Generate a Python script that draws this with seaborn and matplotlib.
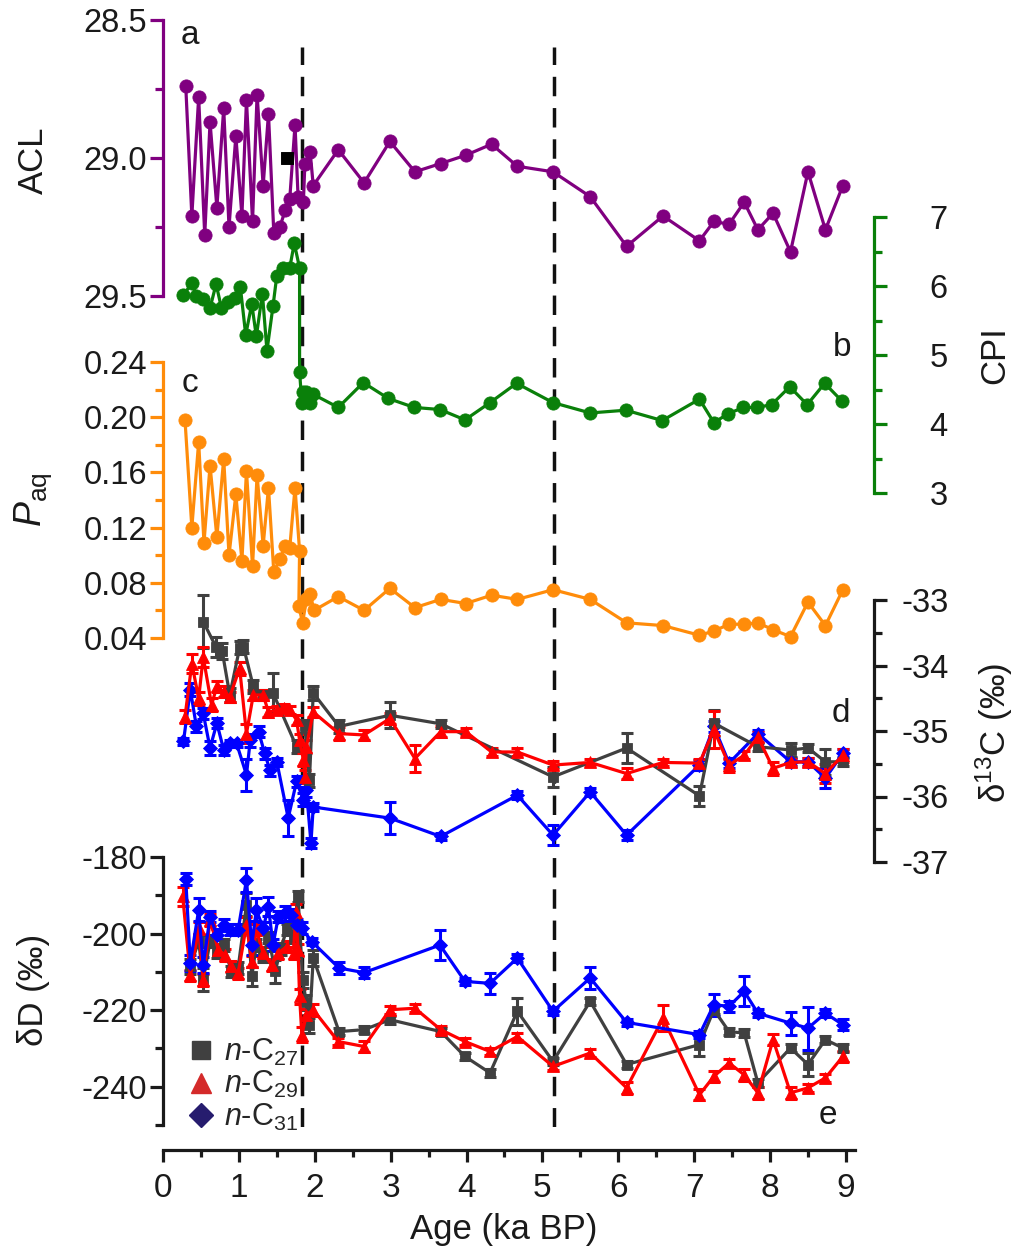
import matplotlib
matplotlib.use("Agg")
import matplotlib.pyplot as plt
import seaborn as sns
from matplotlib.lines import Line2D
from matplotlib.ticker import FixedLocator, FormatStrFormatter

# ---------------- data ----------------
acl_age = [0.30,0.38,0.47,0.55,0.62,0.71,0.80,0.87,0.96,1.04,1.10,1.18,1.24,1.32,1.39,1.46,1.54,1.61,1.67,1.74,
           1.78,1.85,1.87,1.94,1.98,2.31,2.65,2.99,3.32,3.66,3.99,4.33,4.67,5.14,5.63,6.11,6.59,7.07,7.26,7.46,
           7.66,7.84,8.04,8.27,8.50,8.73,8.96]
acl = [28.74,29.21,28.78,29.28,28.87,29.18,28.82,29.25,28.92,29.21,28.79,29.23,28.77,29.10,28.84,29.27,29.25,29.19,
       29.15,28.88,29.14,29.16,29.02,28.98,29.10,28.97,29.09,28.94,29.05,29.02,28.99,28.95,29.03,29.05,29.14,29.32,
       29.21,29.30,29.23,29.24,29.16,29.26,29.20,29.34,29.05,29.26,29.10]
acl_extra_age = [1.63]
acl_extra = [29.00]

cpi_age = [0.27,0.38,0.44,0.53,0.62,0.70,0.77,0.86,0.95,1.02,1.09,1.17,1.23,1.31,1.37,1.45,1.50,1.58,1.67,1.73,
           1.80,1.80,1.83,1.84,1.89,1.94,1.98,2.31,2.64,2.97,3.31,3.65,3.98,4.31,4.66,5.14,5.63,6.10,6.58,7.07,
           7.26,7.45,7.65,7.83,8.02,8.26,8.49,8.72,8.95]
cpi = [5.87,6.04,5.86,5.81,5.68,6.03,5.68,5.77,5.82,5.98,5.29,5.74,5.27,5.89,5.06,5.71,6.15,6.26,6.26,6.62,
       6.26,4.76,4.30,4.47,4.47,4.30,4.43,4.24,4.60,4.37,4.24,4.21,4.06,4.31,4.59,4.31,4.16,4.20,4.05,4.36,
       4.02,4.15,4.24,4.24,4.28,4.54,4.28,4.59,4.33]

paq_age = [0.29,0.38,0.47,0.54,0.62,0.71,0.80,0.87,0.96,1.04,1.10,1.18,1.24,1.32,1.39,1.46,1.54,1.61,1.67,1.74,
           1.80,1.79,1.84,1.89,1.94,1.99,2.31,2.65,2.99,3.32,3.66,3.99,4.33,4.67,5.14,5.63,6.11,6.59,7.07,7.26,
           7.46,7.66,7.84,8.04,8.27,8.50,8.73,8.96]
paq = [0.198,0.120,0.182,0.109,0.165,0.113,0.170,0.100,0.144,0.096,0.161,0.092,0.158,0.107,0.149,0.088,0.097,0.107,
       0.105,0.149,0.103,0.063,0.051,0.068,0.072,0.060,0.070,0.060,0.076,0.062,0.068,0.065,0.071,0.068,0.075,0.068,
       0.051,0.049,0.042,0.045,0.050,0.050,0.051,0.046,0.041,0.066,0.049,0.075]

# delta 13C
c27_d13_age = [0.53,0.70,0.78,0.88,1.01,1.06,1.19,1.32,1.45,1.76,1.87,1.93,1.98,2.32,2.99,3.66,5.14,6.11,7.07,7.26,
               7.84,8.27,8.50,8.73,8.96]
c27_d13 = [-33.33,-33.72,-33.78,-34.45,-33.73,-33.71,-34.32,-34.45,-34.42,-35.24,-34.93,-35.75,-34.42,-34.93,-34.76,
           -34.89,-35.70,-35.26,-35.99,-34.88,-35.24,-35.29,-35.26,-35.47,-35.47]
c27_d13_err = [0.40,0.15,0.12,0.10,0.10,0.10,0.10,0.08,0.30,0.10,0.10,0.10,0.10,0.10,0.20,0.06,0.15,0.23,0.15,0.20,
               0.06,0.10,0.06,0.20,0.06]

c29_d13_age = [0.29,0.38,0.47,0.53,0.64,0.71,0.80,0.88,1.01,1.10,1.19,1.32,1.39,1.50,1.59,1.67,1.76,1.80,1.85,1.87,
               1.89,1.98,2.32,2.65,2.99,3.32,3.66,3.99,4.33,4.67,5.14,5.63,6.11,6.59,7.07,7.26,7.46,7.66,7.84,8.04,
               8.27,8.50,8.73,8.96]
c29_d13 = [-34.78,-33.97,-34.50,-33.87,-34.60,-34.32,-34.40,-34.48,-34.04,-35.04,-34.45,-34.45,-34.71,-34.68,-34.65,
           -34.68,-34.83,-35.14,-35.44,-35.70,-35.24,-34.71,-35.04,-35.06,-34.81,-35.42,-35.01,-35.01,-35.32,-35.32,
           -35.52,-35.48,-35.65,-35.48,-35.49,-34.98,-35.52,-35.37,-35.09,-35.57,-35.48,-35.47,-35.65,-35.37]
c29_d13_err = [0.10,0.15,0.10,0.15,0.10,0.08,0.08,0.08,0.10,0.15,0.08,0.08,0.08,0.06,0.06,0.06,0.08,0.10,0.10,0.10,
               0.10,0.08,0.10,0.08,0.08,0.20,0.08,0.06,0.06,0.06,0.06,0.06,0.08,0.06,0.06,0.28,0.10,0.06,0.08,0.10,
               0.06,0.06,0.15,0.10]

c31_d13_age = [0.27,0.36,0.44,0.53,0.62,0.71,0.80,0.88,0.97,1.10,1.15,1.26,1.34,1.41,1.50,1.65,1.76,1.85,1.89,1.95,
               1.98,2.99,3.66,4.67,5.14,5.63,6.11,7.07,7.26,7.46,7.84,8.27,8.50,8.73,8.96]
c31_d13 = [-35.16,-34.37,-34.93,-34.73,-35.26,-34.88,-35.29,-35.19,-35.19,-35.67,-35.14,-35.01,-35.34,-35.60,-35.47,
           -36.33,-35.77,-36.05,-35.90,-36.71,-36.16,-36.33,-36.61,-35.98,-36.59,-35.93,-36.59,-35.52,-34.93,-35.49,
           -35.04,-35.47,-35.47,-35.72,-35.34]
c31_d13_err = [0.06,0.10,0.08,0.08,0.10,0.08,0.08,0.06,0.06,0.25,0.10,0.08,0.08,0.08,0.06,0.28,0.08,0.10,0.10,0.08,
               0.06,0.25,0.06,0.06,0.15,0.06,0.08,0.08,0.08,0.08,0.06,0.06,0.06,0.15,0.06]

# delta D
c27_dD_age = [0.36,0.47,0.53,0.62,0.71,0.80,0.90,0.99,1.10,1.17,1.23,1.32,1.39,1.48,1.55,1.63,1.72,1.78,1.84,1.89,
              1.93,1.98,2.32,2.65,2.99,3.66,3.98,4.31,4.67,5.14,5.63,6.11,7.07,7.26,7.46,7.66,7.84,8.27,8.50,8.73,8.96]
c27_dD = [-208.6,-202.0,-212.1,-202.0,-205.0,-203.0,-209.9,-209.0,-192.5,-211.2,-203.0,-206.0,-201.0,-209.9,-204.0,
          -199.0,-201.0,-190.3,-212.1,-218.0,-224.0,-206.4,-225.6,-225.1,-222.5,-225.6,-232.1,-236.4,-220.3,-233.4,
          -217.7,-234.2,-229.0,-219.9,-225.6,-226.0,-239.0,-229.9,-234.2,-227.7,-229.9]
c27_dD_err = [2.0,1.5,3.0,1.5,1.5,1.5,1.5,1.5,3.0,2.5,1.5,1.5,1.5,3.0,1.5,1.5,1.5,1.5,2.0,2.0,
              2.0,2.0,1.0,1.0,1.0,1.0,1.0,1.0,3.5,1.0,1.0,1.0,3.0,1.0,1.0,1.0,1.0,1.0,3.0,1.0,1.0]

c29_dD_age = [0.26,0.36,0.47,0.53,0.62,0.73,0.82,0.90,0.99,1.10,1.17,1.23,1.32,1.43,1.52,1.63,1.72,1.75,1.78,1.80,
              1.83,1.89,1.98,2.31,2.65,2.99,3.32,3.66,3.98,4.31,4.67,5.14,5.63,6.11,6.59,7.07,7.26,7.46,7.66,7.84,
              8.04,8.27,8.50,8.73,8.96]
c29_dD = [-190.3,-210.9,-198.6,-212.1,-196.4,-204.3,-205.6,-208.6,-210.4,-197.7,-207.3,-199.0,-205.1,-208.2,-205.1,
          -203.4,-205.1,-194.3,-204.3,-216.4,-226.4,-221.2,-219.9,-228.2,-229.5,-219.9,-219.5,-225.1,-228.2,-230.8,
          -226.9,-234.7,-231.2,-240.3,-222.1,-242.1,-237.3,-233.8,-236.9,-241.6,-227.7,-241.6,-240.3,-237.7,-232.1]
c29_dD_err = [2.5,1.5,1.5,1.5,1.5,1.5,1.5,1.5,1.5,2.0,1.5,1.5,1.5,1.5,1.5,1.5,1.5,2.0,1.5,2.0,
              2.0,1.5,1.5,1.0,1.5,1.0,1.0,1.0,1.0,1.0,1.0,1.0,1.0,1.5,3.4,1.5,1.5,1.0,1.5,1.5,
              1.5,1.5,1.0,1.0,1.5]

c31_dD_age = [0.30,0.36,0.47,0.53,0.62,0.71,0.80,0.88,0.99,1.10,1.17,1.23,1.32,1.39,1.45,1.52,1.61,1.69,1.76,1.83,
              1.96,2.32,2.65,3.65,3.98,4.31,4.67,5.14,5.63,6.11,7.07,7.26,7.46,7.66,7.84,8.27,8.50,8.73,8.96]
c31_dD = [-185.8,-207.7,-193.8,-208.2,-195.6,-200.3,-197.7,-199.0,-199.0,-186.0,-203.0,-193.8,-198.6,-193.0,-203.0,
          -195.6,-194.7,-195.1,-197.7,-198.6,-202.1,-209.0,-210.2,-203.0,-212.5,-213.0,-206.4,-220.3,-211.6,-223.2,
          -226.4,-218.6,-219.0,-215.1,-220.8,-223.4,-224.7,-220.8,-223.8]
c31_dD_err = [1.5,2.0,3.0,2.0,1.5,1.5,1.5,1.5,1.5,3.1,2.5,3.0,1.5,2.5,1.5,1.5,2.0,1.5,1.5,1.5,
              1.0,1.5,1.5,3.9,1.0,2.8,1.0,1.0,2.8,1.0,1.0,2.9,1.5,3.9,1.0,3.0,5.6,1.0,1.5]

boundaries = [1.83, 5.15]
x_ticks = [0, 1, 2, 3, 4, 5, 6, 7, 8, 9]
legend_labels = [r'$\it{n}$-C$_{27}$', r'$\it{n}$-C$_{29}$', r'$\it{n}$-C$_{31}$']

# ---------------- style ----------------
sns.set_style("ticks")
plt.rcParams['font.family'] = ['Liberation Sans', 'DejaVu Sans']
plt.rcParams['mathtext.fontset'] = 'custom'
plt.rcParams['mathtext.rm'] = 'Liberation Sans'
plt.rcParams['mathtext.it'] = 'Liberation Sans:italic'
plt.rcParams['mathtext.bf'] = 'Liberation Sans:bold'

PURPLE, GREEN, ORANGE = '#800080', '#0a800a', '#ff8c0a'
GRAY, RED, BLUE = '#404040', '#ff0000', '#0000ff'
TXT = '#1a1a1a'
W, H = 1029, 1249
XMAX = 9.12
LW = 2.3
YT = 23.5   # y tick label size

fig = plt.figure(figsize=(W / 100, H / 100), dpi=100)


def rect(top, bottom, left=163, right=855):
    return [left / W, 1 - bottom / H, (right - left) / W, (bottom - top) / H]


def make_ax(top, bottom):
    ax = fig.add_axes(rect(top, bottom))
    ax.patch.set_alpha(0)
    ax.set_xlim(0, XMAX)
    for s in ax.spines.values():
        s.set_visible(False)
    ax.tick_params(axis='x', bottom=False, labelbottom=False, top=False)
    return ax


def style_y(ax, side, color, major, minor, fmt, pad):
    sp = ax.spines[side]
    sp.set_visible(True)
    sp.set_color(color)
    sp.set_linewidth(LW)
    if side == 'right':
        sp.set_position(('outward', 14))
    ax.yaxis.set_major_locator(FixedLocator(major))
    ax.yaxis.set_minor_locator(FixedLocator(minor))
    ax.yaxis.set_major_formatter(FormatStrFormatter(fmt))
    left = side == 'left'
    ax.tick_params(axis='y', which='both', left=left, right=not left,
                   labelleft=left, labelright=not left, direction='out', color=color, width=LW)
    ax.tick_params(axis='y', which='major', length=9.5, labelsize=YT, labelcolor=TXT, pad=pad)
    ax.tick_params(axis='y', which='minor', length=6)


def series(ax, x, y, color, marker, ms, err=None):
    if err is not None:
        ax.errorbar(x, y, yerr=err, fmt='none', ecolor=color, elinewidth=2.2,
                    capsize=4.5, capthick=2.2, clip_on=False, zorder=2)
    sns.lineplot(x=x, y=y, ax=ax, color=color, marker=marker, markersize=ms,
                 markeredgecolor=color, markeredgewidth=0.6, linewidth=LW,
                 sort=False, estimator=None, legend=False, clip_on=False, zorder=3)


# dashed boundaries (behind the data)
ax_l = make_ax(47, 1127)
ax_l.set_ylim(0, 1)
ax_l.set_yticks([])
for b in boundaries:
    ax_l.axvline(b, color='#111111', lw=2.5, linestyle=(0, (5.6, 3.4)))

# e: delta D
ax_e = make_ax(857, 1125)
ax_e.set_ylim(-250, -180)
style_y(ax_e, 'left', TXT, [-240, -220, -200, -180], [-250, -230, -210, -190], '%d', 2)
series(ax_e, c27_dD_age, c27_dD, GRAY, 's', 7.5, c27_dD_err)
series(ax_e, c29_dD_age, c29_dD, RED, '^', 9, c29_dD_err)
series(ax_e, c31_dD_age, c31_dD, BLUE, 'D', 7, c31_dD_err)
ax_e.spines['bottom'].set_visible(True)
ax_e.spines['bottom'].set_position(('outward', 18))
ax_e.spines['bottom'].set_linewidth(LW)
ax_e.spines['bottom'].set_color(TXT)
ax_e.xaxis.set_major_locator(FixedLocator(x_ticks))
ax_e.xaxis.set_minor_locator(FixedLocator([v + 0.5 for v in x_ticks[:-1]]))
ax_e.tick_params(axis='x', which='both', bottom=True, direction='out', color=TXT, width=LW)
ax_e.tick_params(axis='x', which='major', length=8.5, labelbottom=True, labelsize=24,
                 labelcolor=TXT, pad=8)
ax_e.tick_params(axis='x', which='minor', length=5)
ax_e.set_xlabel('')

handles = [Line2D([0], [0], marker='s', linestyle='none', markersize=13, color='#404040'),
           Line2D([0], [0], marker='^', linestyle='none', markersize=15, color='#d42a2a'),
           Line2D([0], [0], marker='D', linestyle='none', markersize=12, color='#261c6e')]
ax_e.legend(handles, legend_labels, loc='lower left', bbox_to_anchor=(0.035, -0.03),
            frameon=False, fontsize=22, handlelength=0.9, handletextpad=0.3,
            labelspacing=0.05, borderpad=0, borderaxespad=0)

# d: delta 13C
ax_d = make_ax(600, 862)
ax_d.set_ylim(-37, -33)
style_y(ax_d, 'right', TXT, [-37, -36, -35, -34, -33], [-36.5, -35.5, -34.5, -33.5], '%d', 10)
series(ax_d, c31_d13_age, c31_d13, BLUE, 'D', 7, c31_d13_err)
series(ax_d, c27_d13_age, c27_d13, GRAY, 's', 7.5, c27_d13_err)
series(ax_d, c29_d13_age, c29_d13, RED, '^', 9, c29_d13_err)

# c: Paq
ax_c = make_ax(362, 638)
ax_c.set_ylim(0.04, 0.24)
style_y(ax_c, 'left', ORANGE, [0.04, 0.08, 0.12, 0.16, 0.20, 0.24],
        [0.06, 0.10, 0.14, 0.18, 0.22], '%.2f', 2)
series(ax_c, paq_age, paq, ORANGE, 'o', 9.5)

# b: CPI
ax_b = make_ax(217, 493)
ax_b.set_ylim(3, 7)
style_y(ax_b, 'right', GREEN, [3, 4, 5, 6, 7], [3.5, 4.5, 5.5, 6.5], '%d', 30)
series(ax_b, cpi_age, cpi, GREEN, 'o', 9.5)

# a: ACL (inverted)
ax_a = make_ax(20, 296)
ax_a.set_ylim(29.5, 28.5)
style_y(ax_a, 'left', PURPLE, [28.5, 29.0, 29.5], [28.75, 29.25], '%.1f', 2)
series(ax_a, acl_age, acl, PURPLE, 'o', 9.5)
sns.scatterplot(x=acl_extra_age, y=acl_extra, ax=ax_a, color='black', marker='s', s=70,
                edgecolor='black', legend=False, zorder=4)

for a in (ax_a, ax_b, ax_c, ax_d, ax_e):
    a.set_ylabel('')


# axis titles
def ftext(x, y, s, **kw):
    fig.text(x / W, 1 - y / H, s, color=TXT, **kw)


ftext(504, 1230, 'Age (ka BP)', ha='center', va='center', fontsize=25)
ftext(33, 160, 'ACL', rotation=90, ha='center', va='center', fontsize=25)
ftext(33, 500, r'$\it{P}_{\rm aq}$', rotation=90, ha='center', va='center', fontsize=27)
ftext(33, 990, 'δD (‰)', rotation=90, ha='center', va='center', fontsize=25)
ftext(995, 355, 'CPI', rotation=90, ha='center', va='center', fontsize=25)
ftext(994, 733, r'δ$^{13}$C (‰)', rotation=90, ha='center', va='center', fontsize=25)

for s, x, y in [('a', 190, 35), ('b', 842, 347), ('c', 190, 384), ('d', 841, 713), ('e', 828, 1116)]:
    ftext(x, y, s, ha='center', va='center', fontsize=24)

fig.savefig('out.png', dpi=100)
